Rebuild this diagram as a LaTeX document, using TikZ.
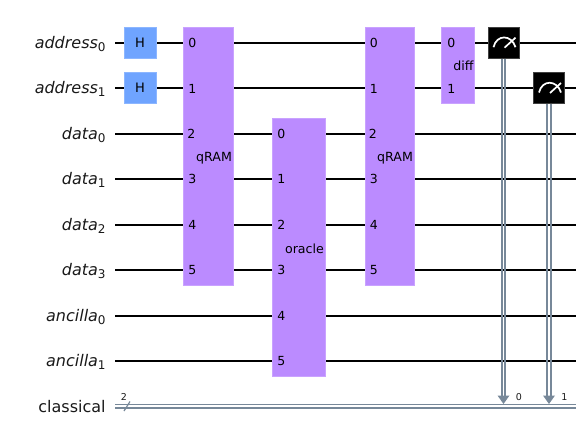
\documentclass[tikz,border=0pt]{standalone}
\usepackage{fontspec}
\setmainfont{DejaVu Sans}
\definecolor{gatepurple}{HTML}{BB8BFF}
\definecolor{gateblue}{HTML}{6FA4FF}
\definecolor{clgray}{HTML}{778899}
\newcommand{\qlabel}[2]{\textit{#1}\raisebox{-2.8pt}{\fontsize{12}{12}\selectfont #2}}
\tikzset{
	every picture/.style={line width=0.75pt},
	wire/.style={line width=1.9pt,black},
	clwire/.style={line width=1.7pt,clgray},
	reglabel/.style={anchor=east,inner sep=0pt,yshift=-0.8pt,font=\fontsize{16}{16}\selectfont,text=black!90},
	portlabel/.style={anchor=west,inner sep=0pt,font=\fontsize{12.5}{13}\selectfont},
	gatelabel/.style={inner sep=0pt,yshift=-0.8pt,font=\fontsize{12.6}{13}\selectfont},
	biggate/.style={draw=gatepurple!80!white,fill=gatepurple,line width=0.8pt,inner sep=0pt,anchor=north west},
	hgate/.style={draw=gateblue!80!white,fill=gateblue,line width=0.8pt,inner sep=0pt,minimum width=32pt,minimum height=31pt,font=\fontsize{13}{13}\selectfont},
	measgate/.style={draw=black!75,fill=black,line width=0.8pt,inner sep=0pt,minimum width=31pt,minimum height=31pt},
	smalllabel/.style={inner sep=0pt,font=\fontsize{9.5}{10}\selectfont,text=black!90}
}
\begin{document}
\begin{tikzpicture}[x=1pt,y=1pt,yscale=-1,xscale=1]
	\useasboundingbox (0,0) rectangle (586,441);
	
	% Register labels
	\node [reglabel] (laba0) at (106,43) {\qlabel{address}{0}};
	\node [reglabel] (laba1) at (106,88) {\qlabel{address}{1}};
	\node [reglabel] (labd0) at (106,134) {\qlabel{data}{0}};
	\node [reglabel] (labd1) at (106,179) {\qlabel{data}{1}};
	\node [reglabel] (labd2) at (106,225) {\qlabel{data}{2}};
	\node [reglabel] (labd3) at (106,270) {\qlabel{data}{3}};
	\node [reglabel] (labn0) at (106,316) {\qlabel{ancilla}{0}};
	\node [reglabel] (labn1) at (106,361) {\qlabel{ancilla}{1}};
	\node [reglabel] (labc) at (106,406) {classical};
	
	% Wires
	\foreach \wname/\wy in {a0/43,a1/88,d0/134,d1/179,d2/225,d3/270,n0/316,n1/361}{
		\coordinate (\wname s) at (115,\wy);
		\coordinate (\wname e) at (576,\wy);
		\draw [wire] (\wname s) -- (\wname e);
	}
	\coordinate (c0s) at (115,404.6);
	\coordinate (c0e) at (576,404.6);
	\coordinate (c1s) at (115,408);
	\coordinate (c1e) at (576,408);
	\draw [clwire] (c0s) -- (c0e);
	\draw [clwire] (c1s) -- (c1e);
	
	% Register slash
	\coordinate (slasha) at (124,411);
	\coordinate (slashb) at (130,401.5);
	\draw [clgray,line width=1.2pt] (slasha) -- (slashb);
	\node [smalllabel] (numc) at (124,397) {2};
	
	% H gates
	\node [hgate] (h0) at (140,42.7) {H};
	\node [hgate] (h1) at (140,88) {H};
	
	% qRAM
	\node [biggate,minimum width=50pt,minimum height=258pt] (ram1) at (183,27) {};
	\node [gatelabel] (ram1t) at (214,157) {qRAM};
	\node [portlabel] at (188,43) {0};
	\node [portlabel] at (188,88.5) {1};
	\node [portlabel] at (187,134) {2};
	\node [portlabel] at (188,179) {3};
	\node [portlabel] at (188,225) {4};
	\node [portlabel] at (188,270) {5};
	
	% oracle
	\node [biggate,minimum width=53pt,minimum height=258pt] (orc) at (272,118) {};
	\node [gatelabel] (orct) at (304.5,248) {oracle};
	\node [portlabel] at (277,134) {0};
	\node [portlabel] at (277,179) {1};
	\node [portlabel] at (277,225) {2};
	\node [portlabel] at (277,270) {3};
	\node [portlabel] at (277,316) {4};
	\node [portlabel] at (277,361) {5};
	
	% qRAM again
	\node [biggate,minimum width=49pt,minimum height=258pt] (ram2) at (365,27) {};
	\node [gatelabel] (ram2t) at (395,157) {qRAM};
	\node [portlabel] at (369.5,43) {0};
	\node [portlabel] at (369.5,88.5) {1};
	\node [portlabel] at (368.5,134) {2};
	\node [portlabel] at (369.5,179) {3};
	\node [portlabel] at (369.5,225) {4};
	\node [portlabel] at (369.5,270) {5};
	
	% diff
	\node [biggate,minimum width=33pt,minimum height=76pt] (dif) at (441,27) {};
	\node [gatelabel] (dift) at (463.5,65.5) {diff};
	\node [portlabel] at (447,43) {0};
	\node [portlabel] at (447,88.5) {1};
	
	% Measurements
	\node [measgate] (m0) at (503.5,42.7) {};
	\node [measgate] (m1) at (549,88) {};
	\coordinate (m0a) at (503.5,396);
	\coordinate (m1a) at (549,396);
	\coordinate (m0c) at (503.5,404);
	\coordinate (m1c) at (549,404);
	\draw [clwire] ([xshift=-1.7pt]m0.south) -- ([xshift=-1.7pt]m0a);
	\draw [clwire] ([xshift=1.7pt]m0.south) -- ([xshift=1.7pt]m0a);
	\draw [clwire] ([xshift=-1.7pt]m1.south) -- ([xshift=-1.7pt]m1a);
	\draw [clwire] ([xshift=1.7pt]m1.south) -- ([xshift=1.7pt]m1a);
	\fill [clgray] (497.5,395.5) -- (509.5,395.5) -- (m0c) -- cycle;
	\fill [clgray] (543,395.5) -- (555,395.5) -- (m1c) -- cycle;
	\draw [white,line width=1.7pt] ([shift={(-10,4.5)}]m0.center) .. controls ([shift={(-7,-8.5)}]m0.center) and ([shift={(8,-8.5)}]m0.center) .. ([shift={(12,4.5)}]m0.center);
	\draw [white,line width=1.7pt] ([shift={(1,5)}]m0.center) -- ([shift={(12,-5)}]m0.center);
	\draw [white,line width=1.7pt] ([shift={(-10,4.5)}]m1.center) .. controls ([shift={(-7,-8.5)}]m1.center) and ([shift={(8,-8.5)}]m1.center) .. ([shift={(12,4.5)}]m1.center);
	\draw [white,line width=1.7pt] ([shift={(1,5)}]m1.center) -- ([shift={(12,-5)}]m1.center);
	\node [smalllabel] (num0) at (519,397) {0};
	\node [smalllabel] (num1) at (564.5,397) {1};
\end{tikzpicture}
\end{document}
